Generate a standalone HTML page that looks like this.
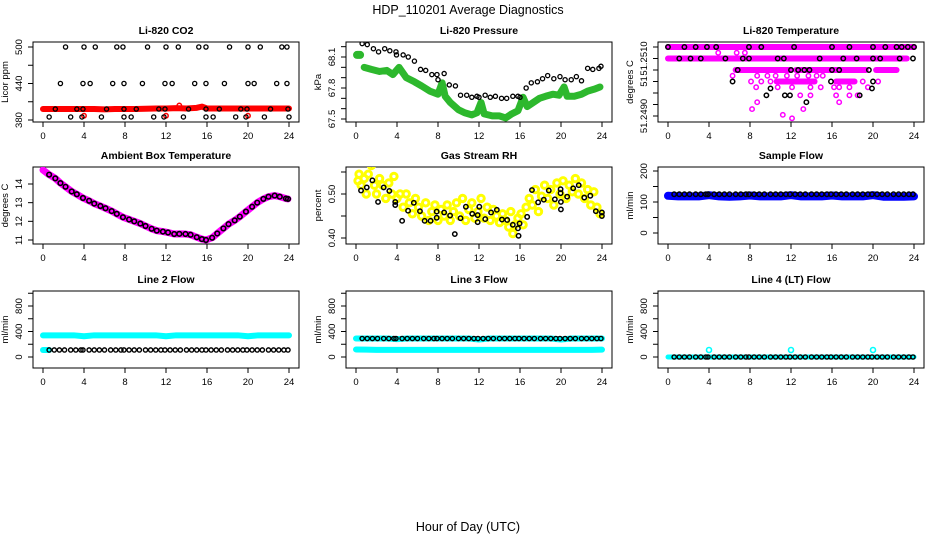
<!DOCTYPE html>
<html><head><meta charset="utf-8"><style>
html,body{margin:0;padding:0;background:#fff;}
svg{display:block;font-family:"Liberation Sans",Arial,sans-serif;}
</style></head><body>
<svg id="c" width="936" height="540" viewBox="0 0 936 540">
<text x="468" y="14" text-anchor="middle" font-size="12.5">HDP_110201  Average Diagnostics</text>
<text x="468" y="531" text-anchor="middle" font-size="12.5">Hour of Day (UTC)</text>
</svg>
<script>
const xTicks=[0,4,8,12,16,20,24];
// CO2
const co2RedH=[0,1,2,3,4,5,6,7,8,9,10,11,12,13,14,15,15.5,16,17,18,19,20,21,22,23,24];
const co2RedV=[398,398,398,398,398,398,397.5,398,398,398,398.5,399,399,399.5,399,400,402,399,399,399,399,399,399,399,399,399];
const co2RedOutH=[4,12,13.3,20];
const co2RedOutV=[387,387,404,387];
const co2BlkH=[2.2,4.0,5.1,7.2,7.8,10.2,12.0,13.2,15.2,15.9,18.2,20.0,21.2,23.3,23.8,1.7,3.9,4.6,6.8,7.9,9.7,11.9,12.6,14.8,15.9,17.7,20.0,20.6,22.8,23.8,1.2,3.3,3.9,6.2,7.9,9.1,11.3,11.9,14.2,15.9,17.2,19.3,19.9,22.2,23.9,0.6,2.7,3.8,5.7,7.9,8.6,10.8,11.8,13.7,15.9,16.6,18.8,19.8,21.6,24.0];
const co2BlkV=[500,500,500,500,500,500,500,500,500,500,500,500,500,500,500,440,440,440,440,440,440,440,440,440,440,440,440,440,440,440,398,398,398,398,398,398,398,398,398,398,398,398,398,398,398,385,385,385,385,385,385,385,385,385,385,385,385,385,385,385];
// Pressure (green split into blobs)
const presGreenH1=[0.1,0.4];
const presGreenV1=[68.12,68.12];
const presGreenH=[0.8,1.5,2.3,3.0,3.6,4.2,4.9,5.7,6.4,7.2,8.0,8.4,8.7,9.2,10.0,10.6,11.3,11.8,12.2,12.5,13.3,14.0,14.6,15.2,15.8,16.3,16.7,17.3,17.9,18.5,19.2,19.8,20.3,20.6,21.3,22.0,22.6,23.3,23.8];
const presGreenV=[68.0,67.98,67.96,67.97,67.93,68.0,67.9,67.86,67.82,67.77,67.74,67.85,67.72,67.66,67.59,67.56,67.54,67.56,67.66,67.55,67.53,67.53,67.51,67.55,67.58,67.71,67.62,67.66,67.70,67.72,67.74,67.73,67.81,67.72,67.72,67.74,67.77,67.79,67.81];
const presBlkH=[0.6,1.1,1.7,2.2,2.8,3.3,3.9,3.95,4.6,5.1,5.7,6.3,6.8,7.4,7.9,8.0,8.6,9.1,9.7,10.2,10.8,11.3,11.8,12.0,12.6,13.1,13.6,14.2,14.7,15.3,15.8,16.0,16.6,17.1,17.7,18.2,18.7,19.3,19.9,20.4,21.0,21.5,22.0,22.6,23.1,23.7,23.9];
const presBlkV=[68.23,68.22,68.18,68.15,68.18,68.16,68.15,68.12,68.12,68.10,68.06,67.98,67.97,67.93,67.93,67.88,67.94,67.83,67.82,67.73,67.73,67.71,67.72,67.71,67.73,67.71,67.72,67.70,67.70,67.72,67.72,67.71,67.80,67.85,67.86,67.89,67.92,67.89,67.91,67.88,67.88,67.91,67.87,67.99,67.98,67.99,68.01];
// Li-820 temperature
const tPinkSegStart=[0,0,6.6,12.5,20.3,10.6,16.4];
const tPinkSegEnd=[24,23.3,12.0,19.3,22.3,14.3,18.2];
const tPinkSegLevel=[51.2515,51.2510,51.2505,51.2505,51.2505,51.2500,51.2500];
const tPinkH=[4.9,6.7,7.5,6.3,8.7,9.7,10.5,11.6,12.6,13.7,14.5,15.1,8.6,10.7,12.1,13.9,14.9,16.2,16.7,17.7,19.5,12.9,13.9,16.4,17.7,18.5,8.7,16.7,8.2,13.2,11.2,12.1,8.1,9.1,10.0,19.0,20.5];
const tPinkV=[51.25125,51.25125,51.25125,51.25025,51.25025,51.25025,51.25025,51.25025,51.25025,51.25025,51.25025,51.25025,51.24975,51.24975,51.24975,51.24975,51.24975,51.24975,51.24975,51.24975,51.24975,51.2494,51.2494,51.2494,51.2494,51.2494,51.2491,51.2491,51.2488,51.2488,51.24855,51.2484,51.2500,51.2500,51.2500,51.2500,51.2500];
const tBlkH=[0,1.6,2.7,3.8,4.7,7.9,9.1,12.3,16,17.7,20,21.2,22.3,22.8,23.4,24,1.1,2.2,3.2,5.6,7.3,7.9,10.7,11.3,14.8,17.1,18.4,20,20.7,22.6,23.9,6.8,12.0,12.7,13.3,13.8,16.0,16.7,19.6,6.3,15.9,20.0,10.0,11.9,9.6,11.4,13.5,18.7,19.9];
const tBlkV=[51.2515,51.2515,51.2515,51.2515,51.2515,51.2515,51.2515,51.2515,51.2515,51.2515,51.2515,51.2515,51.2515,51.2515,51.2515,51.2515,51.2510,51.2510,51.2510,51.2510,51.2510,51.2510,51.2510,51.2510,51.2510,51.2510,51.2510,51.2510,51.2510,51.2510,51.2510,51.2505,51.2505,51.2505,51.2505,51.2505,51.2505,51.2505,51.2505,51.2500,51.2500,51.2500,51.2497,51.2494,51.2494,51.2494,51.2491,51.2494,51.2497];
// Ambient box temperature
const ambH=[0,0.6,1.2,1.7,2.2,2.8,3.3,3.9,4.5,5,5.6,6.1,6.7,7.2,7.8,8.4,8.9,9.5,10,10.6,11.1,11.7,12.2,12.8,13.3,13.9,14.4,15,15.5,15.9,16.5,17,17.6,18.1,18.7,19.2,19.8,20.4,20.9,21.5,22,22.6,23.1,23.7,23.9];
const ambV=[14.75,14.5,14.3,14.05,13.85,13.6,13.45,13.25,13.1,12.95,12.82,12.7,12.55,12.4,12.22,12.1,12.0,11.88,11.75,11.6,11.5,11.45,11.4,11.32,11.33,11.32,11.28,11.15,11.05,11.0,11.12,11.35,11.62,11.85,12.05,12.25,12.52,12.78,13.0,13.2,13.32,13.38,13.32,13.22,13.2];
// RH
const rhYelH=[0.2,0.3,0.5,0.8,1.0,1.2,1.5,1.8,2.0,2.3,2.6,2.9,3.2,3.5,3.7,4.0,4.3,4.6,4.9,5.2,5.5,5.8,6.1,6.4,6.8,7.1,7.4,7.7,8.0,8.3,8.6,8.9,9.2,9.5,9.8,10.1,10.4,10.7,11.0,11.3,11.6,11.9,12.2,12.5,12.8,13.1,13.4,13.7,14.0,14.3,14.6,14.9,15.1,15.3,15.5,15.8,16.1,16.3,16.6,16.9,17.2,17.5,17.8,18.1,18.4,18.7,19.0,19.3,19.6,19.9,20.2,20.5,20.8,21.1,21.4,21.7,22.0,22.3,22.6,22.9,23.2,23.5,23.8];
const rhYelV=[0.53,0.545,0.52,0.535,0.50,0.545,0.565,0.52,0.50,0.535,0.52,0.49,0.525,0.50,0.54,0.49,0.50,0.47,0.50,0.48,0.455,0.49,0.47,0.45,0.48,0.44,0.46,0.475,0.44,0.465,0.45,0.475,0.44,0.46,0.48,0.45,0.49,0.44,0.465,0.48,0.445,0.46,0.49,0.445,0.47,0.44,0.465,0.45,0.435,0.455,0.44,0.425,0.46,0.41,0.43,0.445,0.455,0.43,0.47,0.49,0.475,0.51,0.46,0.495,0.52,0.49,0.51,0.475,0.525,0.50,0.53,0.49,0.52,0.505,0.535,0.50,0.525,0.49,0.51,0.475,0.505,0.47,0.455];
const rhBlkH=[0.49,1.05,1.6,2.15,2.7,3.25,3.83,3.83,4.5,5.08,5.64,6.24,6.7,7.28,7.87,7.87,8.6,9.18,9.64,10.2,10.72,11.34,11.87,11.87,12.03,12.61,13.18,13.74,14.24,14.75,15.3,15.8,15.86,15.96,16.7,17.17,17.77,18.32,18.81,19.4,19.96,19.96,19.99,19.99,20.6,21.19,21.73,22.27,22.86,23.4,23.99,23.99];
const rhBlkV=[0.508,0.515,0.531,0.482,0.515,0.507,0.482,0.475,0.439,0.462,0.480,0.461,0.439,0.439,0.446,0.460,0.458,0.451,0.409,0.445,0.471,0.455,0.436,0.452,0.471,0.443,0.458,0.464,0.442,0.441,0.430,0.422,0.405,0.433,0.448,0.509,0.481,0.487,0.508,0.488,0.511,0.502,0.465,0.482,0.494,0.513,0.520,0.492,0.496,0.461,0.450,0.458];
// Flows
const flowH=[0,1,2,3,4,5,6,7,8,9,10,11,12,13,14,15,16,17,18,19,20,21,22,23,24];
const sampleBlueV=[120,118,118,118,122,118,117,118,121,118,118,118,122,118,118,118,121,118,118,118,122,117,117,117,118];
const line2CyanV=[340,340,340,340,325,340,340,340,340,340,340,340,325,340,340,340,340,340,340,340,325,340,340,340,340];
const line3CyanHiV=[290,290,290,290,280,290,290,290,290,290,290,290,275,290,290,290,290,290,290,290,275,290,290,290,290];
const line3CyanLoV=[118,115,112,112,112,112,112,112,112,112,112,112,112,112,112,112,112,112,112,112,112,112,112,112,115];
const line4CyanV=[0,0,0,0,0,0,0,0,0,0,0,0,0,0,0,0,0,0,0,0,0,0,0,0,0];
const line4OutH=[4,12,20];
const line4OutV=[110,110,110];
const flowBlkH=[0.6,1.1,1.6,2.1,2.7,3.2,3.7,3.9,4.5,5.0,5.5,6.0,6.6,7.1,7.6,7.9,8.4,8.9,9.4,10.0,10.5,11.0,11.5,11.9,12.4,12.9,13.4,14.0,14.5,15.0,15.5,15.9,16.4,16.9,17.4,18.0,18.5,19.0,19.5,19.9,20.4,20.9,21.4,22.0,22.5,23.0,23.5,23.9];
const sampleBlkV=[125,125,125,125,125,125,125,125,125,125,125,125,125,125,125,125,125,125,125,125,125,125,125,125,125,125,125,125,125,125,125,125,125,125,125,125,125,125,125,125,125,125,125,125,125,125,125,125];
const line2BlkV=[110,110,110,110,110,110,110,110,110,110,110,110,110,110,110,110,110,110,110,110,110,110,110,110,110,110,110,110,110,110,110,110,110,110,110,110,110,110,110,110,110,110,110,110,110,110,110,110];
const line3BlkV=[290,290,290,290,290,290,290,290,290,290,290,290,290,290,290,290,290,290,290,290,290,290,290,290,290,290,290,290,290,290,290,290,290,290,290,290,290,290,290,290,290,290,290,290,290,290,290,290];
const line4BlkV=[0,0,0,0,0,0,0,0,0,0,0,0,0,0,0,0,0,0,0,0,0,0,0,0,0,0,0,0,0,0,0,0,0,0,0,0,0,0,0,0,0,0,0,0,0,0,0,0];

const svg=document.getElementById('c');
const NS='http://www.w3.org/2000/svg';
const X0=[43,356,668], PXH=10.25, TOP=[42,167,291], BOT=[122,244,368];
function mk(tag,attrs,parent){const e=document.createElementNS(NS,tag);for(const k in attrs)e.setAttribute(k,attrs[k]);(parent||svg).appendChild(e);return e;}

function panel(col,row,name,title,ylab,v1,p1,v2,p2,ticks,labels){
  const g=mk('g',{});
  
  
  const x0=X0[col],L=x0-10,R=x0+256,T=TOP[row],B=BOT[row];
  const xs=h=>x0+h*PXH, ys=v=>p1+(v-v1)*(p2-p1)/(v2-v1);
  const box=mk('rect',{x:L,y:T,width:R-L,height:B-T,fill:'none',stroke:'#000','stroke-width':1},g);
  
  
  const t=mk('text',{x:(L+R)/2,y:T-8,'text-anchor':'middle','font-size':10.5,'font-weight':'bold'},g);t.textContent=title;
  
  
  const xa=mk('g',{},g);
  
  
  xTicks.forEach(h=>{mk('line',{x1:xs(h),x2:xs(h),y1:B,y2:B+5,stroke:'#000'},xa);
    const tx=mk('text',{x:xs(h),y:B+17,'text-anchor':'middle','font-size':9.5},xa);tx.textContent=h;});
  const ya=mk('g',{},g);
  
  
  ticks.forEach((v,i)=>{const y=ys(v);mk('line',{x1:L,x2:L-5,y1:y,y2:y,stroke:'#000'},ya);
    if(labels[i]){const tx=mk('text',{x:L-11,y:y,'text-anchor':'middle','font-size':9.5,transform:`rotate(-90 ${L-11} ${y})`},ya);tx.textContent=labels[i];}});
  const yl=mk('text',{x:L-25,y:(T+B)/2,'text-anchor':'middle','font-size':9.5,transform:`rotate(-90 ${L-25} ${(T+B)/2})`},g);yl.textContent=ylab;
  
  
  const clip='clip'+col+row;
  const cp=mk('clipPath',{id:clip},g);mk('rect',{x:L,y:T,width:R-L,height:B-T},cp);
  const plot=mk('g',{'clip-path':`url(#${clip})`},g);
  return {xs,ys,g:plot};
}
function band(P,H,V,color,w,name){
  const pl=mk('polyline',{points:H.map((h,i)=>P.xs(h)+','+P.ys(V[i])).join(' '),fill:'none',stroke:color,'stroke-width':w,'stroke-linecap':'round','stroke-linejoin':'round'},P.g);
  
  
}
function pts(P,H,V,color,r,sw,name){
  const g=mk('g',{},P.g);
  
  
  H.forEach((h,i)=>{mk('circle',{cx:P.xs(h),cy:P.ys(V[i]),r:r,fill:'none',stroke:color,'stroke-width':sw},g);});
}

// Row 1
let P=panel(0,0,'co2','Li-820 CO2','Licor ppm',380,120,500,47,[380,410,440,470,500],['380','','440','','500']);
band(P,co2RedH,co2RedV,'#ff0000',6,'co2-red-series');
pts(P,co2RedOutH,co2RedOutV,'#ff0000',2.2,1.5,'co2-red-outliers');
pts(P,co2BlkH,co2BlkV,'#000',2.1,1.3,'co2-black-points');

P=panel(1,0,'pressure','Li-820 Pressure','kPa',67.5,119,68.1,57,[67.5,67.6,67.7,67.8,67.9,68.0,68.1,68.2],['67.5','','','67.8','','','68.1','']);
band(P,presGreenH1,presGreenV1,'#2db82d',8,'pressure-green-start');
band(P,presGreenH,presGreenV,'#2db82d',7,'pressure-green-series');
pts(P,presBlkH,presBlkV,'#000',2.1,1.3,'pressure-black-points');

P=panel(2,0,'li820-temp','Li-820 Temperature','degrees C',51.2485,116,51.2515,47,[51.2485,51.2490,51.2495,51.2500,51.2505,51.2510,51.2515],['51.2490','','','51','','51.2510','']);
{const g=mk('g',{},P.g);


tPinkSegStart.forEach((s,i)=>{mk('line',{x1:P.xs(s),x2:P.xs(tPinkSegEnd[i]),y1:P.ys(tPinkSegLevel[i]),y2:P.ys(tPinkSegLevel[i]),stroke:'#ff00ff','stroke-width':6,'stroke-linecap':'round'},g);});}
pts(P,tPinkH,tPinkV,'#ff00ff',2.2,1.5,'li820-temp-pink-points');
pts(P,tBlkH,tBlkV,'#000',2.2,1.5,'li820-temp-black-points');

// Row 2
P=panel(0,1,'ambient','Ambient Box Temperature','degrees C',11,240,14,184,[11,12,13,14],['11','12','13','14']);
band(P,ambH,ambV,'#ff00ff',7,'ambient-magenta-series');
pts(P,ambH.slice(1),ambV.slice(1),'#000',2.3,1.6,'ambient-black-points');

P=panel(1,1,'rh','Gas Stream RH','percent',0.40,238,0.50,194,[0.40,0.45,0.50,0.55],['0.40','','0.50','']);
pts(P,rhYelH,rhYelV,'#ffff00',3.2,3,'rh-yellow-points');
pts(P,rhBlkH,rhBlkV,'#000',2.2,1.5,'rh-black-points');

P=panel(2,1,'sample-flow','Sample Flow','ml/min',0,233,200,171,[0,50,100,150,200],['0','','100','','200']);
band(P,flowH,sampleBlueV,'#0000ff',8,'sample-flow-blue-series');
pts(P,flowBlkH,sampleBlkV,'#000',2.2,1.5,'sample-flow-black-points');

// Row 3
const fT=[0,200,400,600,800,1000], fL=['0','','400','','800',''];
P=panel(0,2,'line2','Line 2 Flow','ml/min',0,357,800,306,fT,fL);
band(P,flowH,line2CyanV,'#00ffff',6,'line2-cyan-series');
band(P,[0,0.6],[110,110],'#00ffff',6,'line2-cyan-low');
pts(P,flowBlkH,line2BlkV,'#000',2.1,1.4,'line2-black-points');

P=panel(1,2,'line3','Line 3 Flow','ml/min',0,357,800,306,fT,fL);
band(P,flowH,line3CyanHiV,'#00ffff',6,'line3-cyan-high');
band(P,flowH,line3CyanLoV,'#00ffff',6,'line3-cyan-low');
pts(P,flowBlkH,line3BlkV,'#000',2.1,1.4,'line3-black-points');

P=panel(2,2,'line4','Line 4 (LT) Flow','ml/min',0,357,800,306,fT,fL);
band(P,flowH,line4CyanV,'#00ffff',5,'line4-cyan-series');
pts(P,line4OutH,line4OutV,'#00ffff',2.5,1.6,'line4-cyan-outliers');
pts(P,flowBlkH,line4BlkV,'#000',2.1,1.4,'line4-black-points');
</script>
</body></html>
